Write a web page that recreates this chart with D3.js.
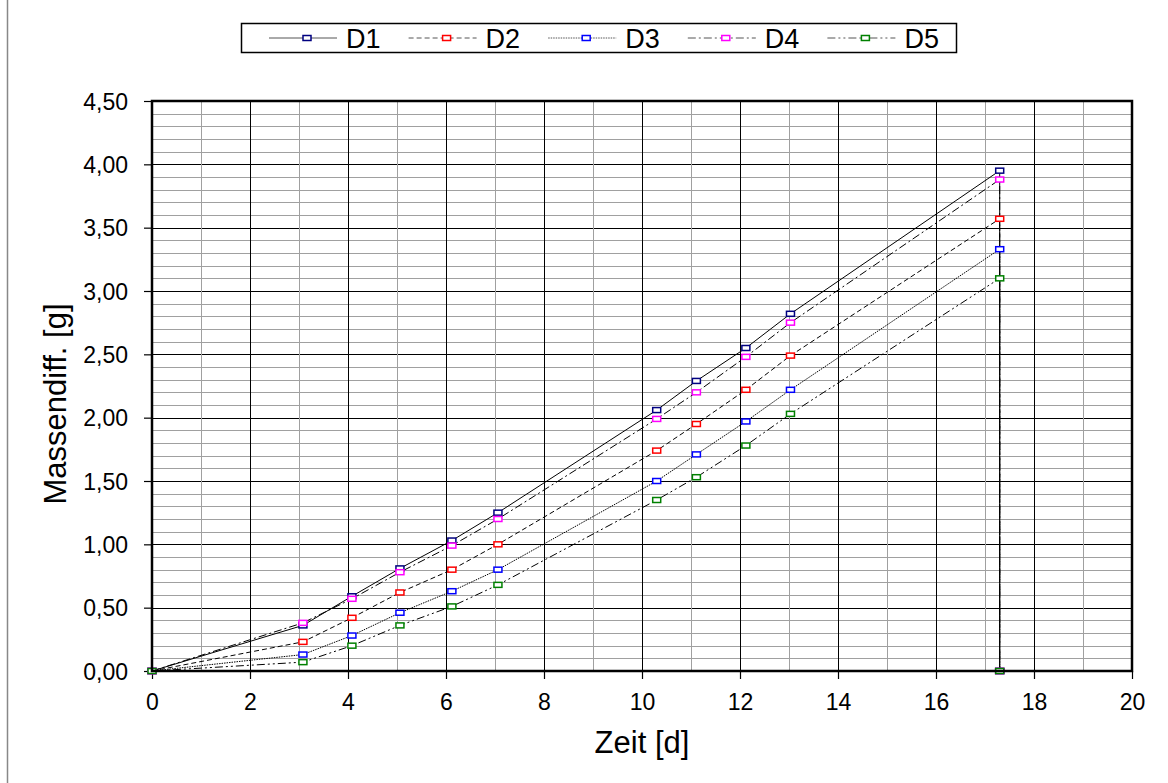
<!DOCTYPE html>
<html lang="de">
<head>
    <meta charset="UTF-8">
    <title>Massendifferenz</title>
    <style>
        body { margin: 0; background: #fff; }
        text { font-family: "Liberation Sans", Arial, sans-serif; fill: #000; }
        .grid-minor { stroke: #a0a0a0; stroke-width: 1; shape-rendering: crispEdges; }
        .grid-major { stroke: #000; stroke-width: 1; shape-rendering: crispEdges; }
        .series { fill: none; stroke: #000; stroke-width: 1; }
    </style>
</head>
<body>
<svg id="container" width="1168" height="783"></svg>

<script src="https://cdn.jsdelivr.net/npm/d3@7/dist/d3.min.js"></script>
<script>

    // data
    let days = [0, 3.08, 4.08, 5.06, 6.12, 7.06, 10.3, 11.11, 12.12, 13.03, 17.3, 17.3]
    let seriesNames = ["D1", "D2", "D3", "D4", "D5"]
    let massD1 = [0, 0.36, 0.59, 0.81, 1.03, 1.25, 2.06, 2.29, 2.55, 2.82, 3.95, 0]
    let massD2 = [0, 0.23, 0.42, 0.62, 0.80, 1.00, 1.74, 1.95, 2.22, 2.49, 3.57, 0]
    let massD3 = [0, 0.13, 0.28, 0.46, 0.63, 0.80, 1.50, 1.71, 1.97, 2.22, 3.33, 0]
    let massD4 = [0, 0.38, 0.57, 0.78, 0.99, 1.20, 1.99, 2.20, 2.48, 2.75, 3.88, 0]
    let massD5 = [0, 0.07, 0.20, 0.36, 0.51, 0.68, 1.35, 1.53, 1.78, 2.03, 3.10, 0]
    let xTicks = [0, 2, 4, 6, 8, 10, 12, 14, 16, 18, 20]
    let yTicks = [0, 0.5, 1, 1.5, 2, 2.5, 3, 3.5, 4, 4.5]

    let markerColors = ["#000080", "#ff0000", "#0000ff", "#ff00ff", "#008000"]
    let dashes = ["none", "5,3", "1.5,1", "8,3,2,3", "8,3,2,3,2,3"]

    let allSeries = [massD1, massD2, massD3, massD4, massD5].map((vals, i) => ({
        name: seriesNames[i],
        color: markerColors[i],
        dash: dashes[i],
        points: vals.map((v, j) => ({ x: days[j], y: v }))
    }))

    let svg = d3.select("#container")

    // outer frame (left edge only visible)
    svg.append("line")
        .attr("x1", 7.5).attr("x2", 7.5)
        .attr("y1", 0).attr("y2", 783)
        .attr("stroke", "#888").attr("stroke-width", 1.5)

    let plotLeft = 152, plotRight = 1132, plotTop = 101, plotBottom = 671

    let x = d3.scaleLinear().domain([0, 20]).range([plotLeft, plotRight])
    let y = d3.scaleLinear().domain([0, 4.5]).range([plotBottom, plotTop])

    let de = d3.formatLocale({ decimal: ",", thousands: ".", grouping: [3], currency: ["", " €"] })
    let fmt = de.format(".2f")

    let grid = svg.append("g")

    // horizontal grid every 0.1, black every 0.5
    d3.range(1, 45).forEach(k => {
        let v = k / 10
        grid.append("line")
            .attr("class", k % 5 == 0 ? "grid-major" : "grid-minor")
            .attr("x1", plotLeft).attr("x2", plotRight)
            .attr("y1", Math.round(y(v)) + 0.5).attr("y2", Math.round(y(v)) + 0.5)
    })

    // vertical grid every day, black every 2
    d3.range(1, 20).forEach(k => {
        grid.append("line")
            .attr("class", k % 2 == 0 ? "grid-major" : "grid-minor")
            .attr("x1", Math.round(x(k)) + 0.5).attr("x2", Math.round(x(k)) + 0.5)
            .attr("y1", plotTop).attr("y2", plotBottom)
    })

    // axes
    let yAxis = d3.axisLeft(y)
        .tickValues(yTicks)
        .tickFormat(fmt)
        .tickSize(8)
        .tickPadding(16)

    let xAxis = d3.axisBottom(x)
        .tickValues(xTicks)
        .tickFormat(d3.format("d"))
        .tickSize(8)
        .tickPadding(15)

    let gy = svg.append("g")
        .attr("transform", `translate(${plotLeft},0)`)
        .call(yAxis)
    gy.select(".domain").remove()
    gy.selectAll(".tick line").attr("stroke", "#000").attr("stroke-width", 1.2)
    gy.selectAll("text").style("font-size", "23px").attr("dy", "0.36em")

    let gx = svg.append("g")
        .attr("transform", `translate(0,${plotBottom})`)
        .call(xAxis)
    gx.select(".domain").remove()
    gx.selectAll(".tick line").attr("stroke", "#000").attr("stroke-width", 1.2)
    gx.selectAll("text").style("font-size", "23px")

    // series lines
    let line = d3.line()
        .x(d => x(d.x))
        .y(d => y(d.y))

    allSeries.forEach(s => {
        svg.append("path")
            .datum(s.points)
            .attr("class", "series")
            .attr("stroke-dasharray", s.dash)
            .attr("d", line)
    })

    // markers
    allSeries.forEach(s => {
        svg.append("g")
            .selectAll("rect")
            .data(s.points)
            .enter()
            .append("rect")
            .attr("x", d => x(d.x) - 4)
            .attr("y", d => y(d.y) - 2.5)
            .attr("width", 8)
            .attr("height", 5)
            .attr("fill", "#fff")
            .attr("stroke", s.color)
            .attr("stroke-width", 1.5)
    })

    // plot frame
    svg.append("rect")
        .attr("x", plotLeft).attr("y", plotTop)
        .attr("width", plotRight - plotLeft).attr("height", plotBottom - plotTop)
        .attr("fill", "none")
        .attr("stroke", "#000")
        .attr("stroke-width", 2.5)

    // axis titles
    svg.append("text")
        .attr("x", (plotLeft + plotRight) / 2)
        .attr("y", 753)
        .attr("text-anchor", "middle")
        .style("font-size", "31px")
        .text("Zeit [d]")

    svg.append("text")
        .attr("transform", `translate(66,${(plotTop + plotBottom) / 2 + 18}) rotate(-90)`)
        .attr("text-anchor", "middle")
        .style("font-size", "31px")
        .text("Massendiff. [g]")

    // legend
    let legend = svg.append("g")
    legend.append("rect")
        .attr("x", 241.5).attr("y", 23.5)
        .attr("width", 715).attr("height", 29)
        .attr("fill", "#fff")
        .attr("stroke", "#000")
        .attr("stroke-width", 1.5)

    let item = legend.selectAll("g.item")
        .data(allSeries)
        .enter()
        .append("g")
        .attr("class", "item")
        .attr("transform", (d, i) => `translate(${269 + i * 139.6},38)`)

    item.append("line")
        .attr("x1", 0).attr("x2", 68)
        .attr("stroke", "#555")
        .attr("stroke-dasharray", d => d.dash)

    item.append("rect")
        .attr("x", 34).attr("y", -2.5)
        .attr("width", 8).attr("height", 5)
        .attr("fill", "#fff")
        .attr("stroke", d => d.color)
        .attr("stroke-width", 1.5)

    item.append("text")
        .attr("x", 77)
        .attr("y", 10)
        .style("font-size", "27px")
        .text(d => d.name)

</script>
</body>
</html>
